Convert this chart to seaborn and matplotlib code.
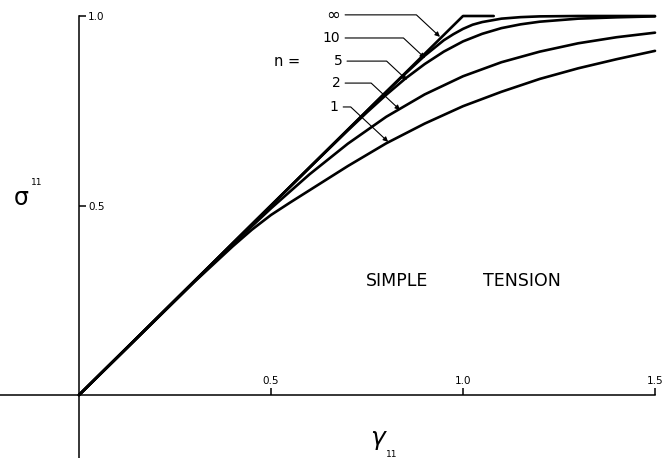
import numpy as np
import pandas as pd
import matplotlib
matplotlib.use("Agg")
import matplotlib.pyplot as plt
import seaborn as sns

# ---- data ----
n_labels = ["∞", "10", "5", "2", "1"]

gamma_inf = [0.0, 1.0, 1.08]
sigma_inf = [0.0, 1.0, 1.0]

gamma_n10 = [0.0, 0.5, 0.7, 0.8, 0.85, 0.9, 0.95, 0.975, 1.0, 1.025, 1.05,
             1.1, 1.15, 1.2, 1.3, 1.5]
sigma_n10 = [0.0, 0.5, 0.7, 0.7995, 0.848, 0.895, 0.936, 0.952, 0.966, 0.977,
             0.984, 0.993, 0.997, 0.999, 1.0, 1.0]

gamma_n5 = [0.0, 0.5, 0.6, 0.7, 0.75, 0.8, 0.85, 0.9, 0.95, 1.0, 1.05, 1.1,
            1.15, 1.2, 1.3, 1.4, 1.5]
sigma_n5 = [0.0, 0.5, 0.5996, 0.698, 0.746, 0.792, 0.835, 0.873, 0.906, 0.933,
            0.953, 0.968, 0.978, 0.985, 0.993, 0.9965, 0.999]

gamma_n2 = [0.0, 0.3, 0.4, 0.5, 0.6, 0.7, 0.8, 0.9, 1.0, 1.1, 1.2, 1.3, 1.4, 1.5]
sigma_n2 = [0.0, 0.299, 0.3975, 0.4925, 0.582, 0.663, 0.734, 0.793, 0.841,
            0.878, 0.906, 0.928, 0.944, 0.956]

gamma_n1 = [0.0, 0.3, 0.4, 0.45, 0.5, 0.55, 0.6, 0.7, 0.8, 0.9, 1.0, 1.1, 1.2,
            1.3, 1.4, 1.5]
sigma_n1 = [0.0, 0.298, 0.392, 0.436, 0.475, 0.508, 0.540, 0.604, 0.664, 0.716,
            0.762, 0.800, 0.834, 0.862, 0.886, 0.908]

x_ticks = [0.5, 1.0, 1.5]
x_ticklabels = ["0.5", "1.0", "1.5"]
y_ticks = [0.5, 1.0]
y_ticklabels = ["0.5", "1.0"]

# label anchor (start of leader) and arrow tip for each curve
label_pos = {"∞": (0.693, 1.003), "10": (0.693, 0.942), "5": (0.698, 0.881),
             "2": (0.693, 0.823), "1": (0.688, 0.760)}
tip_pos = {"∞": (0.940, 0.945), "10": (0.901, 0.889), "5": (0.854, 0.831),
           "2": (0.836, 0.752), "1": (0.805, 0.668)}

frames = []
for lab, g, s in [("∞", gamma_inf, sigma_inf), ("10", gamma_n10, sigma_n10),
                  ("5", gamma_n5, sigma_n5), ("2", gamma_n2, sigma_n2),
                  ("1", gamma_n1, sigma_n1)]:
    frames.append(pd.DataFrame({"gamma": g, "sigma": s, "n": lab}))
df = pd.concat(frames, ignore_index=True)

sns.set_theme(style="white")
plt.rcParams["font.family"] = ["DejaVu Sans"]
plt.rcParams["text.color"] = "black"

W, H = 662, 458
fig = plt.figure(figsize=(W / 100, H / 100), dpi=100)
ax = fig.add_axes([0, 0, 1, 1])

# pixel geometry of the reference
ox, oy = 79, 395          # origin in pixels
sx, sy = 384, 379         # pixels per unit
ax.set_xlim(-ox / sx, (W - ox) / sx)
ax.set_ylim(-(H - oy) / sy, oy / sy)

sns.lineplot(data=df, x="gamma", y="sigma", hue="n", units="n",
             palette={k: "black" for k in n_labels}, estimator=None,
             sort=False, legend=False, linewidth=1.9, ax=ax)
for ln in ax.lines:
    ln.set_solid_joinstyle("round")

# axes through origin
for sp in ["left", "bottom"]:
    ax.spines[sp].set_visible(False)
ax.spines["right"].set_position(("data", 0))
ax.spines["top"].set_position(("data", 0))
ax.spines["right"].set_bounds(-(H - oy) / sy, 1.0)
ax.spines["top"].set_bounds(-ox / sx, 1.5)
for sp in ["right", "top"]:
    ax.spines[sp].set_color("black")
    ax.spines[sp].set_linewidth(1.1)
ax.yaxis.set_ticks_position("right")
ax.xaxis.set_ticks_position("top")
ax.set_xticks(x_ticks)
ax.set_xticklabels(x_ticklabels)
ax.set_yticks(y_ticks)
ax.set_yticklabels(y_ticklabels)
ax.tick_params(axis="both", direction="out", length=5, width=1.1,
               labelsize=7.5, colors="black", pad=1.5)
ax.set_xlabel("")
ax.set_ylabel("")

# axis titles
ax.text(-0.17, 0.52, "σ", fontsize=17, ha="left", va="center", color="black")
ax.text(-0.125, 0.56, "11", fontsize=6.5, ha="left", va="center", color="black")
ax.text(0.78, -0.12, r"$\gamma$", fontsize=18, ha="center", va="center",
        color="black")
ax.text(0.815, -0.158, "11", fontsize=6.5, ha="center", va="center",
        color="black")

# n labels with leader arrows
ax.text(0.575, 0.88, "n =", fontsize=10.5, ha="right", va="center",
        color="black")
for lab in n_labels:
    lx, ly = label_pos[lab]
    ax.text(lx - 0.012, ly, lab, fontsize=10 if lab != "∞" else 12,
            ha="right", va="center", color="black")
    ax.annotate("", xy=tip_pos[lab], xytext=(lx, ly),
                arrowprops=dict(arrowstyle="-|>", color="black", lw=0.8,
                                mutation_scale=7, shrinkA=0, shrinkB=0,
                                connectionstyle="angle,angleA=0,angleB=-43,rad=0"))

ax.text(0.747, 0.30, "SIMPLE", fontsize=12.5, ha="left", va="center",
        color="black")
ax.text(1.052, 0.30, "TENSION", fontsize=12.5, ha="left", va="center",
        color="black")

fig.savefig("out.png", dpi=100)
